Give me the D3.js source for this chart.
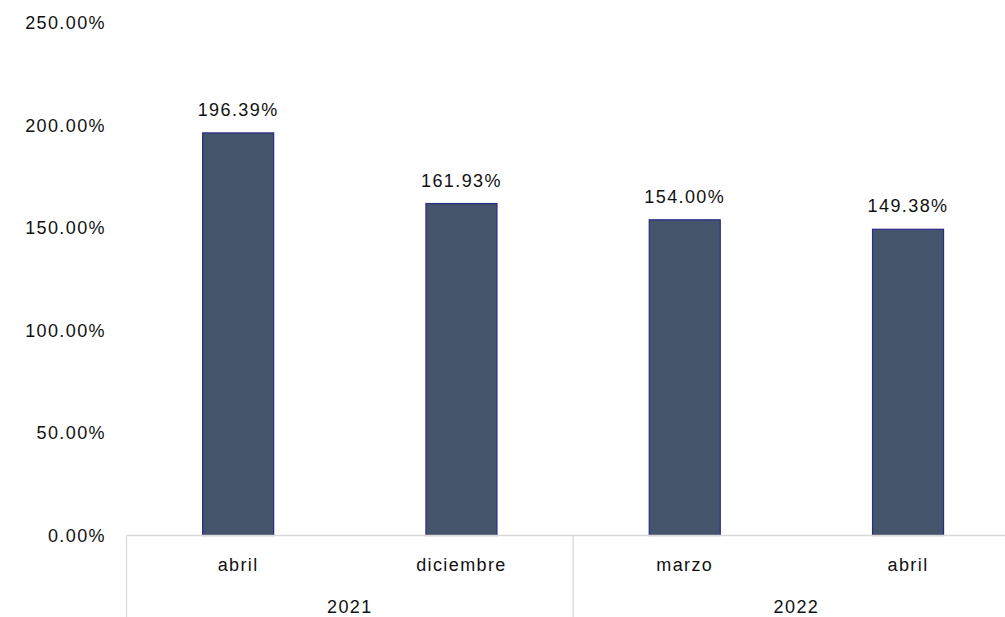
<!DOCTYPE html>
<html>
<head>
<meta charset="utf-8">
<script src="https://cdn.jsdelivr.net/npm/d3@7"></script>
<style>
  html, body { margin: 0; padding: 0; background: #fff; }
  svg { display: block; }
  text { font-family: "Liberation Sans", Arial, sans-serif; fill: #111; letter-spacing: 1.4px; }
</style>
</head>
<body>
<svg id="chart" width="1005" height="617"></svg>
<script>
// Months with their year group
const months = ["abril", "diciembre", "marzo", "abril"];
const years = ["2021", "2021", "2022", "2022"];
const values = [196.39, 161.93, 154.00, 149.38];
const yTicks = [0, 50, 100, 150, 200, 250];

const svg = d3.select("#chart");
const W = 1005, H = 617;
const FS = 18;
const left = 126.5, step = 223.3;
const x = d3.scaleBand()
  .domain(d3.range(values.length))
  .range([left, left + step * values.length])
  .paddingInner(0.682)
  .paddingOuter(0.341);
const y = d3.scaleLinear().domain([0, 250]).range([535.5, 23]);

const fmt = v => v.toFixed(2) + "%";

// Y axis labels (no axis line, no gridlines)
svg.append("g").selectAll("text")
  .data(yTicks).join("text")
  .attr("x", 106).attr("y", d => y(d))
  .attr("dy", "0.35em")
  .attr("text-anchor", "end")
  .attr("font-size", FS)
  .text(fmt);

// Bars
svg.append("g").selectAll("rect")
  .data(values).join("rect")
  .attr("x", (d, i) => x(i))
  .attr("y", d => y(d))
  .attr("width", x.bandwidth())
  .attr("height", d => y(0) - y(d))
  .attr("fill", "#44546a")
  .attr("stroke", "#2a2a8a")
  .attr("stroke-width", 1.2);

// Value labels
svg.append("g").selectAll("text")
  .data(values).join("text")
  .attr("x", (d, i) => x(i) + x.bandwidth() / 2)
  .attr("y", d => y(d) - 17)
  .attr("text-anchor", "middle")
  .attr("font-size", FS)
  .text(fmt);

// Category axis: baseline and group dividers
const axis = svg.append("g").attr("stroke", "#d9d9d9").attr("stroke-width", 1.3);
axis.append("line")
  .attr("x1", left).attr("x2", W)
  .attr("y1", y(0)).attr("y2", y(0));
const groups = Array.from(d3.group(years.map((yr, i) => ({ yr, i })), d => d.yr),
  ([yr, items]) => ({ yr, first: items[0].i, last: items[items.length - 1].i }));
const bandStart = i => x(i) - x.step() * x.paddingInner() / 2;
const bandEnd = i => x(i) + x.bandwidth() + x.step() * x.paddingInner() / 2;
groups.forEach(g => {
  axis.append("line")
    .attr("x1", bandStart(g.first)).attr("x2", bandStart(g.first))
    .attr("y1", y(0)).attr("y2", H);
});

// Month labels
svg.append("g").selectAll("text")
  .data(months).join("text")
  .attr("x", (d, i) => x(i) + x.bandwidth() / 2)
  .attr("y", 565).attr("dy", "0.35em")
  .attr("text-anchor", "middle")
  .attr("font-size", FS)
  .text(d => d);

// Year labels
svg.append("g").selectAll("text")
  .data(groups).join("text")
  .attr("x", g => (bandStart(g.first) + bandEnd(g.last)) / 2)
  .attr("y", 607).attr("dy", "0.35em")
  .attr("text-anchor", "middle")
  .attr("font-size", FS)
  .text(g => g.yr);
</script>
</body>
</html>
